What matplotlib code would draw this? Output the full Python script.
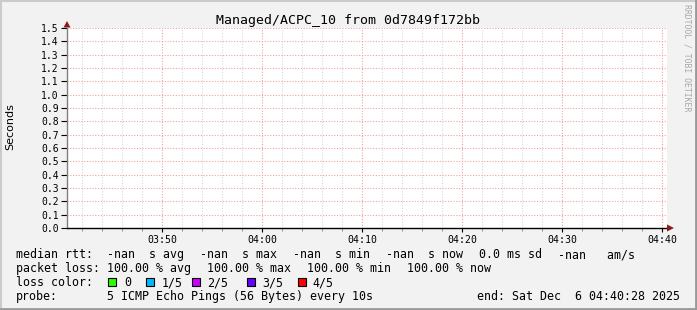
import numpy as np
import matplotlib
matplotlib.use("Agg")
import matplotlib.pyplot as plt
import matplotlib.dates as mdates
from matplotlib.patches import Rectangle, Polygon
from matplotlib.lines import Line2D
from datetime import datetime, timedelta

# ---- data ----
title = "Managed/ACPC_10 from 0d7849f172bb"
ylabel = "Seconds"
start_time = datetime(2025, 12, 6, 3, 40, 28)
end_time = datetime(2025, 12, 6, 4, 40, 28)
sample_times = [start_time + timedelta(seconds=10 * i) for i in range(361)]
median_rtt = [np.nan] * len(sample_times)  # 100% loss -> no values
y_ticks = [round(0.1 * i, 1) for i in range(16)]
row_heads = ["median rtt:", "packet loss:", "loss color:", "probe:"]
rtt_items = ["-nan  s avg", "-nan  s max", "-nan  s min", "-nan  s now",
             "0.0 ms sd", "-nan   am/s"]
loss_items = ["100.00 % avg", "100.00 % max", "100.00 % min", "100.00 % now"]
probe_text = "5 ICMP Echo Pings (56 Bytes) every 10s"
end_label = "end: Sat Dec  6 04:40:28 2025"
loss_labels = ["0", "1/5", "2/5", "3/5", "4/5"]
loss_colors = ["#26ff00", "#00b8ff", "#cc00ff", "#6a00ff", "#ff0000"]
watermark = "RRDTOOL / TOBI OETIKER"

W, H = 697, 310
fig = plt.figure(figsize=(W / 100, H / 100), dpi=100)
fig.patch.set_facecolor("#f2f2f2")


def fx(x):
    return x / W


def fy(y):
    return 1 - y / H


mono = "DejaVu Sans Mono"
FS = 8.35

# frame shading
fig.add_artist(Line2D([0, 1], [fy(0.5), fy(0.5)], color="#cbcbcb", lw=1.5))
fig.add_artist(Line2D([fx(0.5), fx(0.5)], [0, 1], color="#cbcbcb", lw=1.5))
fig.add_artist(Line2D([0, 1], [fy(309), fy(309)], color="#999999", lw=2))
fig.add_artist(Line2D([fx(696), fx(696)], [0, 1], color="#999999", lw=2))

# plot area
L, R, T, B = 67, 667, 28, 228
ax = fig.add_axes([fx(L), fy(B), (R - L) / W, (B - T) / H])
ax.set_facecolor("white")
ax.plot(sample_times, median_rtt, color="#26ff00", lw=1)
ax.set_xlim(start_time, end_time)
ax.set_ylim(0, 1.5)

for s in ["top", "right"]:
    ax.spines[s].set_visible(False)
ax.spines["left"].set_color("#808080")
ax.spines["left"].set_linewidth(1)
ax.spines["bottom"].set_color("black")
ax.spines["bottom"].set_linewidth(1)

ax.set_yticks(y_ticks)
ax.set_yticklabels([f"{v:.1f}" for v in y_ticks], fontfamily=mono, fontsize=7)
ax.xaxis.set_major_locator(mdates.MinuteLocator(byminute=range(0, 60, 10)))
ax.xaxis.set_minor_locator(mdates.MinuteLocator(byminute=range(0, 60, 2)))
ax.xaxis.set_major_formatter(mdates.DateFormatter("%H:%M"))
for lab in ax.get_xticklabels():
    lab.set_fontfamily(mono)
    lab.set_fontsize(7.1)
ax.tick_params(axis="y", length=4, width=0.8, pad=2, colors="black")
ax.tick_params(axis="x", which="major", length=3, width=0.8, pad=2, colors="black")
ax.tick_params(axis="x", which="minor", length=2, width=0.6, colors="#808080")

# grids
ax.grid(False)
for v in y_ticks[1:]:
    ax.axhline(v, color="#f0a0a0", lw=0.8, ls=(0, (1, 1.5)), zorder=0.5)
for t in ax.xaxis.get_minorticklocs():
    ax.axvline(t, color="#d8d8d8", lw=0.8, ls=(0, (1, 1.5)), zorder=0.4)
for t in ax.xaxis.get_majorticklocs():
    ax.axvline(t, color="#f0a0a0", lw=0.8, ls=(0, (1, 1.5)), zorder=0.5)

# axis arrows
fig.add_artist(Polygon([[fx(63.5), fy(27.5)], [fx(70.5), fy(27.5)], [fx(67), fy(21)]],
                       closed=True, color="#8b1a1a", lw=0))
fig.add_artist(Polygon([[fx(667), fy(224.5)], [fx(667), fy(231.5)], [fx(674), fy(228)]],
                       closed=True, color="#8b1a1a", lw=0))

# title and labels
fig.text(fx(348), fy(24), title, ha="center", va="baseline", fontfamily=mono,
         fontsize=9.5, color="black")
fig.text(fx(10), fy(127), ylabel, rotation=90, ha="center", va="center",
         fontfamily="DejaVu Sans", fontsize=8, color="black")
fig.text(fx(687), fy(4), watermark, rotation=270, ha="center", va="top",
         fontfamily=mono, fontsize=5.9, color="#a8a8a8")


def put(x, yb, txt, ha="left"):
    fig.text(fx(x), fy(yb), txt, ha=ha, va="baseline", fontfamily=mono,
             fontsize=FS, color="black")


# legend
baselines = [258, 272, 286, 300]
for txt, yb in zip(row_heads, baselines):
    put(16, yb, txt)

rtt_x = [107, 200, 293, 386, 479, 558]
for txt, x in zip(rtt_items, rtt_x):
    put(x, baselines[0], txt)

loss_x = [107, 207, 307, 407]
for txt, x in zip(loss_items, loss_x):
    put(x, baselines[1], txt)

sq_x = [108, 146, 192, 247, 298]
lab_x = [124, 162, 207, 262, 312]
for c, lab, sx, lx in zip(loss_colors, loss_labels, sq_x, lab_x):
    fig.add_artist(Rectangle((fx(sx), fy(286)), 8 / W, 8 / H, facecolor=c,
                             edgecolor="black", lw=0.8))
    put(lx, baselines[2], lab)

put(107, baselines[3], probe_text)
put(680, baselines[3], end_label, ha="right")

fig.savefig("out.png", dpi=100, facecolor=fig.get_facecolor())
